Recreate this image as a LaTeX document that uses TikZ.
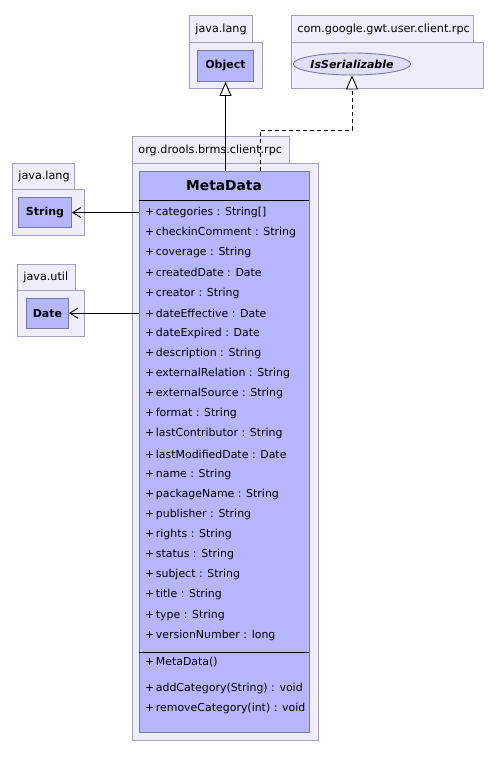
\documentclass[tikz,border=0pt]{standalone}
\usepackage{fontspec}
\setmainfont{DejaVu Sans}
\usetikzlibrary{arrows.meta,shapes.geometric}
\definecolor{pkgfill}{RGB}{238,238,251}
\definecolor{pkgline}{RGB}{160,160,184}
\definecolor{clsfill}{RGB}{182,182,255}
\definecolor{clsline}{RGB}{120,120,168}
\definecolor{ifcfill}{RGB}{222,222,246}
\begin{document}
\begin{tikzpicture}[x=1pt,y=-1pt,
  pkgtab/.style={draw=pkgline,fill=pkgfill,line width=0.9pt,anchor=north west,inner ysep=0pt,inner xsep=6pt,align=left,font=\fontsize{11.2}{13}\selectfont},
  pkgbody/.style={draw=pkgline,fill=pkgfill,line width=0.9pt,anchor=north west,inner sep=0pt},
  cls/.style={draw=clsline,fill=clsfill,line width=1pt,anchor=north west,inner sep=0pt},
  clsname/.style={inner sep=0pt,font=\fontsize{11}{13}\selectfont\bfseries},
  ifc/.style={ellipse,draw=clsline,fill=ifcfill,line width=0.9pt,inner sep=0pt,minimum width=109pt,minimum height=22pt,font=\fontsize{11}{13}\selectfont\bfseries\itshape},
  attr/.style={anchor=west,inner sep=0pt,font=\fontsize{10.95}{13}\selectfont},
  ttl/.style={inner sep=0pt,font=\fontsize{13.8}{16}\selectfont\bfseries},
  sepline/.style={line width=1pt,black},
  assoc/.style={line width=0.9pt,black,-{Straight Barb[length=8pt,width=10pt,line width=0.9pt]}},
  gen/.style={line width=0.9pt,black,-{Triangle[length=14pt,width=12pt,fill=white,line width=0.9pt]}},
  real/.style={line width=0.9pt,black,dash pattern=on 4pt off 3pt,-{Triangle[length=14pt,width=12pt,fill=white,line width=0.9pt,sep=0pt]}}
]
\useasboundingbox (0,0) rectangle (494,757);
\fill[white] (0,0) rectangle (494,757);

% java.lang (Object)
\node[pkgtab,minimum height=27pt,text width=51pt] (objtab) at (189,15) {java.lang};
\node[pkgbody,minimum width=73pt,minimum height=46pt] (objpkg) at (189,42) {};
\node[cls,minimum width=56pt,minimum height=31pt] (obj) at (197,50) {};
\node[clsname] (objname) at (obj.center) {Object};

% com.google.gwt.user.client.rpc
\node[pkgtab,minimum height=27pt,text width=170pt] (sertab) at (291,15) {com.google.gwt.user.client.rpc};
\node[pkgbody,minimum width=192pt,minimum height=46pt] (serpkg) at (291,42) {};
\node[ifc] (ser) at (352,64) {IsSerializable};

% org.drools.brms.client.rpc
\node[pkgtab,minimum height=27pt,text width=145pt] (mdtab) at (132,136) {org.drools.brms.client.rpc};
\node[pkgbody,minimum width=186pt,minimum height=577pt] (mdpkg) at (132,163) {};
\node[cls,minimum width=170pt,minimum height=561pt] (meta) at (139,171) {};
\node[ttl] (metaname) at (224,186) {MetaData};
\draw[sepline] (139,200) -- (309,200);
\draw[sepline] (139,652) -- (309,652);

\foreach \t [count=\i] in {{categories : String[]},{checkinComment : String},{coverage : String},{createdDate : Date},{creator : String},{dateEffective : Date},{dateExpired : Date},{description : String},{externalRelation : String},{externalSource : String},{format : String},{lastContributor : String},{lastModifiedDate : Date},{name : String},{packageName : String},{publisher : String},{rights : String},{status : String},{subject : String},{title : String},{type : String},{versionNumber : long}}
  \node[attr] (a\i) at (145,{212.5+(\i-1)*20.13}) {+\hspace{1.5pt}\t};

\node[attr] (m1) at (145,662) {+\hspace{1.5pt}MetaData()};
\node[attr] (m2) at (145,688) {+\hspace{1.5pt}addCategory(String) : void};
\node[attr] (m3) at (145,708) {+\hspace{1.5pt}removeCategory(int) : void};

% java.lang (String)
\node[pkgtab,minimum height=26pt,text width=50pt] (strtab) at (12,163) {java.lang};
\node[pkgbody,minimum width=72pt,minimum height=46pt] (strpkg) at (12,189) {};
\node[cls,minimum width=53pt,minimum height=30pt] (str) at (18,197) {};
\node[clsname] (strname) at (str.center) {String};

% java.util (Date)
\node[pkgtab,minimum height=26pt,text width=46pt] (datetab) at (17,264) {java.util};
\node[pkgbody,minimum width=67pt,minimum height=46pt] (datepkg) at (17,290) {};
\node[cls,minimum width=42pt,minimum height=30pt] (date) at (26,298) {};
\node[clsname] (datename) at (date.center) {Date};

% connectors
\draw[gen] (obj.south |- meta.north) -- (obj.south);
\coordinate (rk) at (260,130);
\draw[real] (meta.north -| rk) -- (rk) -| (ser.south);
\draw[assoc] (meta.west |- a1) -- (str.east |- a1);
\draw[assoc] (meta.west |- a6) -- (date.east |- a6);
\end{tikzpicture}
\end{document}
